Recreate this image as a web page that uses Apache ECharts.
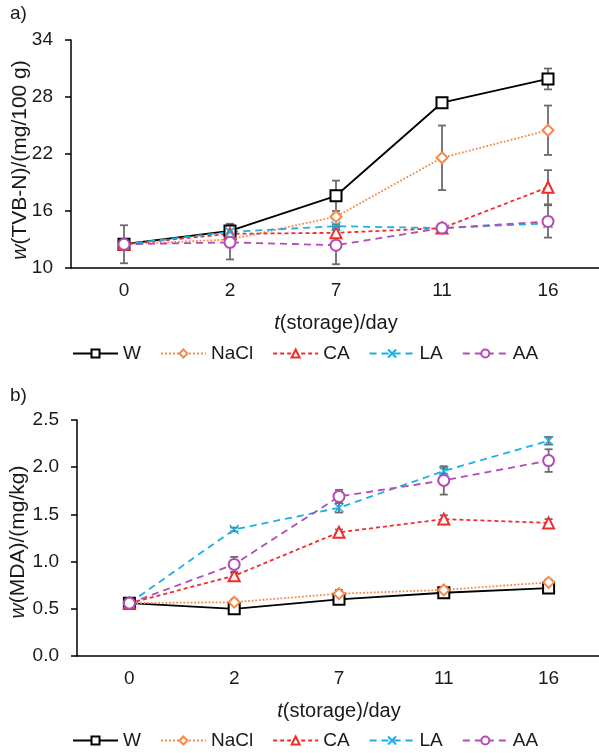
<!DOCTYPE html>
<html>
<head>
<meta charset="utf-8">
<script src="https://cdn.jsdelivr.net/npm/echarts@6/dist/echarts.min.js"></script>
<style>
  html, body { margin: 0; padding: 0; background: #fff; }
  #chart { width: 599px; height: 753px; }
</style>
</head>
<body>
<div id="chart"></div>
<script>
// storage days (category axis)
const days = ['0', '2', '7', '11', '16']
const names = ['W', 'NaCl', 'CA', 'LA', 'AA']

// a) TVB-N, mg/100 g
const tvbW = [12.5, 13.9, 17.6, 27.4, 29.9]
const tvbNaCl = [12.5, 13.0, 15.4, 21.6, 24.5]
const tvbCA = [12.5, 13.6, 13.7, 14.2, 18.5]
const tvbLA = [12.5, 13.8, 14.4, 14.2, 14.7]
const tvbAA = [12.5, 12.7, 12.4, 14.2, 14.9]
const tvbWErr = [2.0, 0.75, 1.6, 0.3, 1.1]
const tvbNaClErr = [0.3, 0.3, 0.3, 3.4, 2.6]
const tvbCAErr = [0.3, 0.3, 0.3, 0.2, 1.8]
const tvbLAErr = [0.2, 0.2, 0.2, 0.2, 0.2]
const tvbAAErr = [0.3, 1.8, 2.0, 0.2, 1.7]

// b) MDA, mg/kg
const mdaW = [0.56, 0.50, 0.60, 0.67, 0.72]
const mdaNaCl = [0.56, 0.57, 0.66, 0.70, 0.78]
const mdaCA = [0.56, 0.85, 1.31, 1.45, 1.41]
const mdaLA = [0.56, 1.34, 1.57, 1.96, 2.28]
const mdaAA = [0.56, 0.97, 1.69, 1.86, 2.07]
const mdaWErr = [0.02, 0.02, 0.05, 0.03, 0.03]
const mdaNaClErr = [0.02, 0.03, 0.04, 0.02, 0.03]
const mdaCAErr = [0.02, 0.03, 0.03, 0.04, 0.04]
const mdaLAErr = [0.02, 0.02, 0.05, 0.03, 0.04]
const mdaAAErr = [0.02, 0.08, 0.07, 0.15, 0.12]

const font = "'Liberation Sans', Arial, sans-serif"
const errColor = '#6b6b6b'
const textColor = '#1a1a1a'

// look of each treatment
const styles = {
  W: { color: '#000000', type: 'solid', symbol: 'emptyRect' },
  NaCl: { color: '#F58A4B', type: 'dotted', symbol: 'emptyDiamond' },
  CA: { color: '#F22B2B', type: [4, 3], symbol: 'emptyTriangle' },
  LA: { color: '#1AAFE6', type: [7, 5], symbol: 'path://M0,0L10,10M10,0L0,10' },
  AA: { color: '#B34CB3', type: [7, 5], symbol: 'emptyCircle' },
}

function lineSeries(name, values, gi) {
  const s = styles[name]
  return {
    name: name,
    type: 'line',
    xAxisIndex: gi,
    yAxisIndex: gi,
    data: values,
    symbol: s.symbol,
    symbolSize: name === 'LA' ? 9 : 11,
    z: 3,
    lineStyle: { color: s.color, width: 1.8, type: s.type },
    itemStyle: { color: s.color, borderColor: s.color, borderWidth: 1.5 },
    emphasis: { disabled: true },
  }
}

function errorSeries(name, values, errs, gi) {
  return {
    name: name + ' SD',
    type: 'custom',
    xAxisIndex: gi,
    yAxisIndex: gi,
    silent: true,
    z: 2,
    data: values.map((v, i) => [i, v - errs[i], v + errs[i]]),
    encode: { x: 0, y: [1, 2] },
    renderItem: (params, api) => {
      const lo = api.coord([api.value(0), api.value(1)])
      const hi = api.coord([api.value(0), api.value(2)])
      const w = 4
      const st = { stroke: errColor, lineWidth: 1.8 }
      return {
        type: 'group',
        children: [
          { type: 'line', shape: { x1: lo[0], y1: lo[1], x2: hi[0], y2: hi[1] }, style: st },
          { type: 'line', shape: { x1: lo[0] - w, y1: lo[1], x2: lo[0] + w, y2: lo[1] }, style: st },
          { type: 'line', shape: { x1: hi[0] - w, y1: hi[1], x2: hi[0] + w, y2: hi[1] }, style: st },
        ],
      }
    },
  }
}

function nameStyle(size, padding) {
  return {
    fontFamily: font,
    fontSize: size,
    color: textColor,
    padding: padding,
    rich: { i: { fontStyle: 'italic', fontFamily: font, fontSize: size, color: textColor } },
  }
}

function xAxis(gi) {
  return {
    gridIndex: gi,
    type: 'category',
    data: days,
    name: '{i|t}(storage)/day',
    nameLocation: 'middle',
    nameGap: 45,
    nameMoveOverlap: false,
    nameTextStyle: nameStyle(20, 0),
    axisLine: { lineStyle: { color: '#000', width: 1.5 } },
    axisTick: { length: 6, lineStyle: { color: '#000', width: 1.5 } },
    axisLabel: { fontFamily: font, fontSize: 19, color: textColor, margin: 13 },
  }
}

function yAxis(gi, nameText, min, max, interval, gap, shift, digits) {
  return {
    gridIndex: gi,
    type: 'value',
    min: min,
    max: max,
    interval: interval,
    name: nameText,
    nameLocation: 'middle',
    nameGap: gap,
    nameMoveOverlap: false,
    nameTextStyle: nameStyle(21, [0, shift, 0, 0]),
    axisLine: { show: true, lineStyle: { color: '#000', width: 1.5 } },
    axisTick: { show: true, length: 6, lineStyle: { color: '#000', width: 1.5 } },
    axisLabel: { fontFamily: font, fontSize: 19, color: textColor, margin: 18, formatter: (v) => v.toFixed(digits) },
    splitLine: { show: false },
  }
}

function legend(top) {
  return {
    data: names,
    left: 72,
    top: top,
    padding: 0,
    itemWidth: 45,
    itemHeight: 10,
    itemGap: 19,
    textStyle: { fontFamily: font, fontSize: 19, color: textColor },
    selectedMode: false,
  }
}

const tvb = { W: tvbW, NaCl: tvbNaCl, CA: tvbCA, LA: tvbLA, AA: tvbAA }
const tvbErr = { W: tvbWErr, NaCl: tvbNaClErr, CA: tvbCAErr, LA: tvbLAErr, AA: tvbAAErr }
const mda = { W: mdaW, NaCl: mdaNaCl, CA: mdaCA, LA: mdaLA, AA: mdaAA }
const mdaErr = { W: mdaWErr, NaCl: mdaNaClErr, CA: mdaCAErr, LA: mdaLAErr, AA: mdaAAErr }

const series = []
names.forEach((n) => {
  series.push(lineSeries(n, tvb[n], 0))
  series.push(lineSeries(n, mda[n], 1))
})
names.forEach((n) => {
  series.push(errorSeries(n, tvb[n], tvbErr[n], 0))
  series.push(errorSeries(n, mda[n], mdaErr[n], 1))
})

const options = {
  animation: false,
  backgroundColor: '#fff',
  grid: [
    { left: 71, top: 40, width: 530, height: 228, outerBoundsMode: 'none' },
    { left: 77, top: 420, width: 524, height: 236, outerBoundsMode: 'none' },
  ],
  xAxis: [xAxis(0), xAxis(1)],
  yAxis: [
    yAxis(0, '{i|w}(TVB-N)/(mg/100 g)', 10, 34, 6, 40, 12, 0),
    yAxis(1, '{i|w}(MDA)/(mg/kg)', 0, 2.5, 0.5, 48, 8, 1),
  ],
  legend: [legend(344), legend(731)],
  graphic: [
    { type: 'text', left: 10, top: 4, style: { text: 'a)', fontFamily: font, fontSize: 19, fill: textColor } },
    { type: 'text', left: 10, top: 386, style: { text: 'b)', fontFamily: font, fontSize: 19, fill: textColor } },
  ],
  series: series,
}

const chart = echarts.init(document.getElementById('chart'))
chart.setOption(options)
</script>
</body>
</html>
